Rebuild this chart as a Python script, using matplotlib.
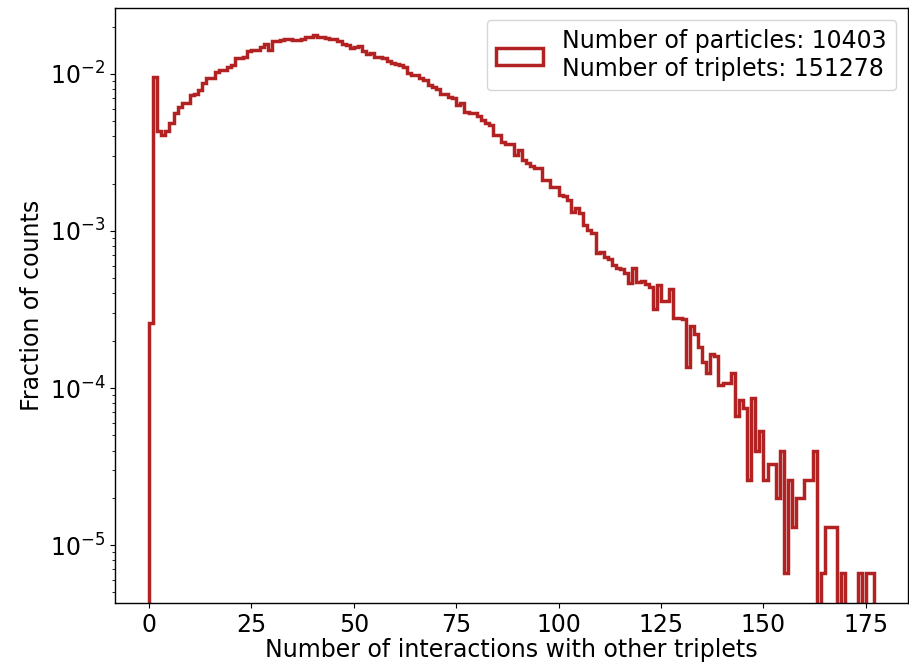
"""
Histogram of triplet interactions (fraction of counts, log scale)
Output: out.png
"""

import numpy as np
import matplotlib
matplotlib.use("Agg")
import matplotlib.pyplot as plt

COLOR = "#B22222"

plt.rcParams.update({
    "font.family": "DejaVu Sans",
    "font.size": 17,
    "axes.linewidth": 1.0,
})

N_PARTICLES = 10403
N_TRIPLETS = 151278

# fraction of counts per bin (bin width 1, starting at 0)
frac_0_44 = [
    2.6e-4, 9.6e-3, 4.3e-3, 4.1e-3, 4.3e-3, 4.85e-3, 5.6e-3, 6.2e-3, 6.5e-3, 6.5e-3,
    7.35e-3, 7.5e-3, 7.9e-3, 8.7e-3, 9.4e-3, 9.4e-3, 1.03e-2, 1.06e-2, 1.06e-2, 1.11e-2,
    1.14e-2, 1.26e-2, 1.26e-2, 1.28e-2, 1.39e-2, 1.41e-2, 1.41e-2, 1.49e-2, 1.55e-2, 1.41e-2,
    1.62e-2, 1.62e-2, 1.65e-2, 1.66e-2, 1.66e-2, 1.64e-2, 1.65e-2, 1.68e-2, 1.72e-2, 1.71e-2,
    1.76e-2, 1.72e-2, 1.71e-2, 1.70e-2, 1.68e-2,
]
frac_45_89 = [
    1.67e-2, 1.61e-2, 1.54e-2, 1.52e-2, 1.46e-2, 1.49e-2, 1.51e-2, 1.39e-2, 1.34e-2, 1.35e-2,
    1.29e-2, 1.28e-2, 1.26e-2, 1.20e-2, 1.17e-2, 1.15e-2, 1.14e-2, 1.11e-2, 1.01e-2, 9.9e-3,
    9.8e-3, 9.4e-3, 9.2e-3, 8.5e-3, 8.3e-3, 8.0e-3, 7.5e-3, 7.4e-3, 7.1e-3, 7.0e-3,
    6.35e-3, 6.5e-3, 5.75e-3, 5.6e-3, 5.6e-3, 5.4e-3, 5.1e-3, 4.9e-3, 4.7e-3, 4.1e-3,
    4.1e-3, 3.7e-3, 3.6e-3, 3.6e-3, 3.05e-3,
]
frac_90_134 = [
    3.3e-3, 2.83e-3, 2.7e-3, 2.6e-3, 2.5e-3, 2.5e-3, 2.1e-3, 2.1e-3, 1.9e-3, 1.9e-3,
    1.7e-3, 1.66e-3, 1.58e-3, 1.33e-3, 1.4e-3, 1.3e-3, 1.09e-3, 1.01e-3, 9.7e-4, 7.2e-4,
    7.4e-4, 6.8e-4, 6.6e-4, 6.1e-4, 5.8e-4, 5.7e-4, 5.4e-4, 4.65e-4, 5.8e-4, 4.7e-4,
    4.8e-4, 4.6e-4, 4.4e-4, 3.2e-4, 4.5e-4, 3.6e-4, 3.6e-4, 4.3e-4, 2.8e-4, 2.8e-4,
    2.76e-4, 1.37e-4, 2.5e-4, 2.2e-4, 1.83e-4,
]
frac_135_176 = [
    1.47e-4, 1.24e-4, 1.65e-4, 1.6e-4, 1.05e-4, 1.07e-4, 1.07e-4, 1.24e-4, 6.6e-5, 8.4e-5,
    7.5e-5, 2.6e-5, 8.6e-5, 4.0e-5, 5.3e-5, 2.6e-5, 3.3e-5, 3.3e-5, 2.0e-5, 4.0e-5,
    6.6e-6, 2.6e-5, 1.3e-5, 2.0e-5, 2.0e-5, 2.6e-5, 2.6e-5, 4.0e-5, 0.0, 6.6e-6,
    1.3e-5, 1.3e-5, 1.3e-5, 0.0, 6.6e-6, 0.0, 0.0, 0.0, 6.6e-6, 0.0,
    6.6e-6, 6.6e-6,
]

fractions = np.array(frac_0_44 + frac_45_89 + frac_90_134 + frac_135_176)
edges = np.arange(len(fractions) + 1)


def plot_hist():
    fig = plt.figure(figsize=(9.09, 6.63), dpi=100)
    ax = fig.add_axes([0.1265, 0.0905, 0.8725, 0.8975])

    ax.hist(
        edges[:-1], bins=edges, weights=fractions,
        histtype="step", log=True, color=COLOR, linewidth=2.5,
        label=f"Number of particles: {N_PARTICLES}\nNumber of triplets: {N_TRIPLETS}",
    )

    ax.set_xlim(-8.3, 185.3)
    ax.set_ylim(4.28e-6, 2.63e-2)
    ax.set_xticks([0, 25, 50, 75, 100, 125, 150, 175])

    ax.set_xlabel("Number of interactions with other triplets", fontsize=17, labelpad=1)
    ax.set_ylabel("Fraction of counts", fontsize=17)
    ax.tick_params(labelsize=17)

    ax.legend(loc="upper right", fontsize=17)

    fig.savefig("out.png", dpi=100)
    plt.close(fig)


if __name__ == "__main__":
    plot_hist()
